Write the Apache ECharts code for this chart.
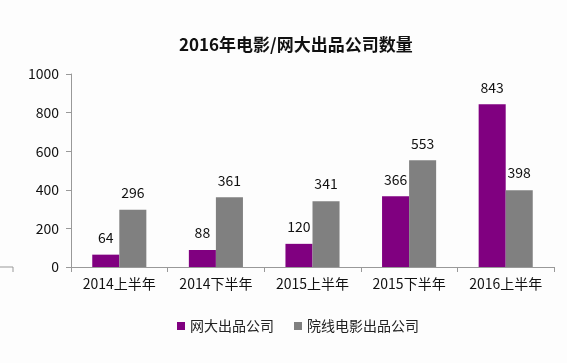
<!DOCTYPE html>
<html><head><meta charset="utf-8">
<script src="https://cdn.jsdelivr.net/npm/echarts@6/dist/echarts.min.js"></script>
<style>html,body{margin:0;padding:0;background:#fdfdfd}#c{width:567px;height:363px}</style>
</head><body><div id="c"></div>
<script>
const categories = ['2014上半年','2014下半年','2015上半年','2015下半年','2016上半年'];
const netFilm = [64, 88, 120, 366, 843];
const cinemaFilm = [296, 361, 341, 553, 398];
const seriesNames = ['网大出品公司','院线电影出品公司'];
const yTicks = {min:0, max:1000, interval:200};
const font = '"Noto Sans CJK SC", "Noto Sans", sans-serif';
const chart = echarts.init(document.getElementById('c'));
chart.setOption({
  backgroundColor:'#fdfdfd',
  animation:false,
  title:{text:'2016年电影/网大出品公司数量',left:174,top:31,textStyle:{fontFamily:font,fontSize:17,fontWeight:'bold',color:'#111'}},
  grid:{left:71,right:13,top:74,bottom:96},
  legend:{bottom:25,left:172,itemWidth:8,itemHeight:8,itemGap:20,icon:'rect',textStyle:{fontFamily:font,fontSize:14,color:'#222'},data:seriesNames},
  xAxis:{type:'category',data:categories,axisLine:{lineStyle:{color:'#999'}},axisTick:{show:true,length:5,lineStyle:{color:'#999'}},axisLabel:{fontFamily:font,fontSize:14,color:'#111',margin:10}},
  yAxis:{type:'value',min:yTicks.min,max:yTicks.max,interval:yTicks.interval,splitLine:{show:false},axisLine:{show:true,lineStyle:{color:'#999'}},axisTick:{show:true,length:5,lineStyle:{color:'#999'}},axisLabel:{fontFamily:font,fontSize:14,color:'#111',margin:12,formatter:v=>String(v)}},
  series:[
    {name:seriesNames[0],type:'bar',data:netFilm,barWidth:'28%',barGap:'0%',itemStyle:{color:'#800080'},label:{show:true,position:'top',distance:10,fontFamily:font,fontSize:14,color:'#111'}},
    {name:seriesNames[1],type:'bar',data:cinemaFilm,barWidth:'28%',itemStyle:{color:'#808080'},label:{show:true,position:'top',distance:10,fontFamily:font,fontSize:14,color:'#111'}}
  ],
  graphic:[{type:'polyline',shape:{points:[[0,267],[13,267],[13,272]]},style:{stroke:'#999',fill:null,lineWidth:1}}]
});
</script></body></html>
